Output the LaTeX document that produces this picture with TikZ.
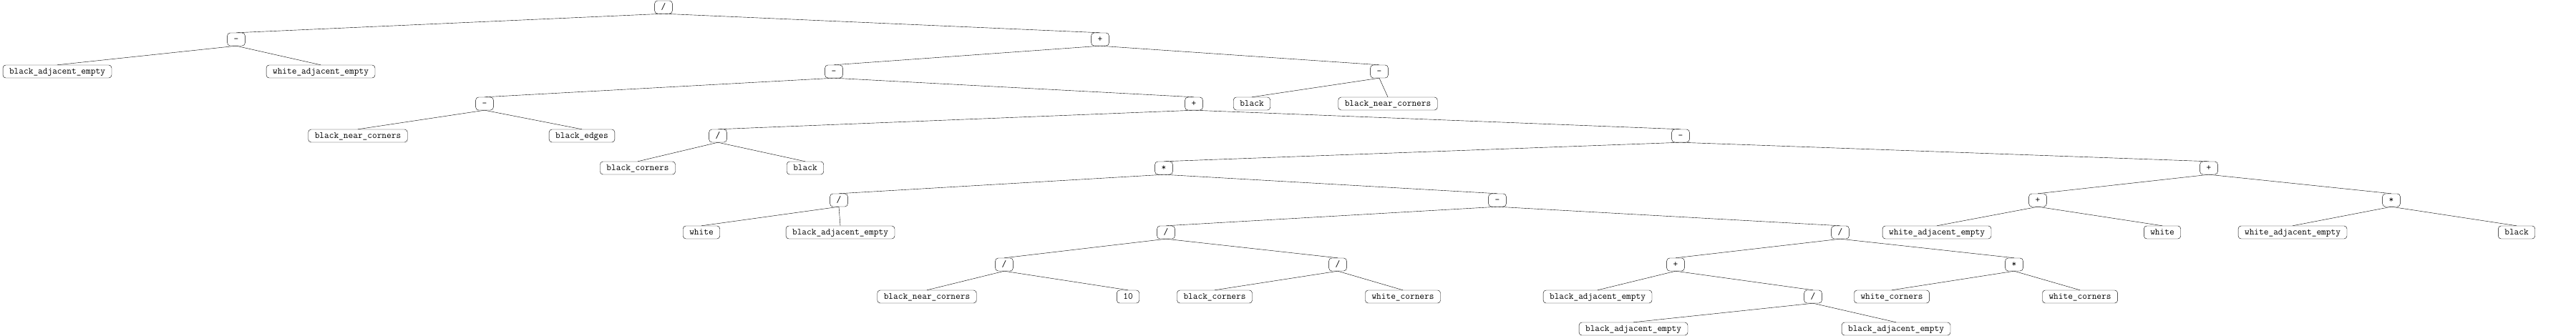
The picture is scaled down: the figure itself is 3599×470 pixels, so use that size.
\documentclass[tikz,border=0pt]{standalone}
\tikzstyle{t} = [draw, rounded corners=4pt, thin, font=\fontsize{13}{15}\selectfont\ttfamily, inner xsep=9pt, inner ysep=0pt, minimum height=18pt, text height=9pt, text depth=2pt]
\begin{document}
\begin{tikzpicture}[x=1pt,y=-1pt,
		op/.style={t},
		leaf/.style={t},
		edge/.style={thin}]
		\useasboundingbox (0,0) rectangle (3599,470);
		% operators
		\node (a) [op] at (927,10) {/};
		\node (b) [op] at (330,55) {-};
		\node (c) [op] at (1537,55) {+};
		\node (d) [op] at (1165,100) {-};
		\node (e) [op] at (1927,100) {-};
		\node (f) [op] at (677,145) {-};
		\node (g) [op] at (1668,145) {+};
		\node (h) [op] at (1003,190) {/};
		\node (i) [op] at (2348,190) {-};
		\node (j) [op] at (1626,235) {*};
		\node (k) [op] at (3086,235) {+};
		\node (l) [op] at (1172,280) {/};
		\node (m) [op] at (2092,280) {-};
		\node (n) [op] at (2847,280) {+};
		\node (o) [op] at (3341,280) {*};
		\node (p) [op] at (1629,325) {/};
		\node (q) [op] at (2571,325) {/};
		\node (r) [op] at (1403,370) {/};
		\node (s) [op] at (1869,370) {/};
		\node (u) [op] at (2341,370) {+};
		\node (v) [op] at (2814,370) {*};
		\node (w) [op] at (2533,415) {/};
		% leaves
		\node (b1) [leaf] at (80,100) {black\_adjacent\_empty};
		\node (b2) [leaf] at (448,100) {white\_adjacent\_empty};
		\node (e1) [leaf] at (1749,145) {black};
		\node (e2) [leaf] at (1939,145) {black\_near\_corners};
		\node (f1) [leaf] at (500,190) {black\_near\_corners};
		\node (f2) [leaf] at (813,190) {black\_edges};
		\node (h1) [leaf] at (891,235) {black\_corners};
		\node (h2) [leaf] at (1125,235) {black};
		\node (l1) [leaf] at (980,325) {white};
		\node (l2) [leaf] at (1174,325) {black\_adjacent\_empty};
		\node (n1) [leaf] at (2706,325) {white\_adjacent\_empty};
		\node (n2) [leaf] at (3021,325) {white};
		\node (o1) [leaf] at (3203,325) {white\_adjacent\_empty};
		\node (o2) [leaf] at (3516,325) {black};
		\node (r1) [leaf] at (1295,415) {black\_near\_corners};
		\node (r2) [leaf] at (1576,415) {10};
		\node (s1) [leaf] at (1697,415) {black\_corners};
		\node (s2) [leaf] at (1960,415) {white\_corners};
		\node (u1) [leaf] at (2232,415) {black\_adjacent\_empty};
		\node (v1) [leaf] at (2643,415) {white\_corners};
		\node (v2) [leaf] at (2906,415) {white\_corners};
		\node (w1) [leaf] at (2282,460) {black\_adjacent\_empty};
		\node (w2) [leaf] at (2649,460) {black\_adjacent\_empty};
		% edges
		\foreach \p/\q in {a/b,a/c,b/b1,b/b2,c/d,c/e,d/f,d/g,e/e1,e/e2,f/f1,f/f2,
			g/h,g/i,h/h1,h/h2,i/j,i/k,j/l,j/m,k/n,k/o,l/l1,l/l2,m/p,m/q,n/n1,n/n2,
			o/o1,o/o2,p/r,p/s,q/u,q/v,r/r1,r/r2,s/s1,s/s2,u/u1,u/w,v/v1,v/v2,w/w1,w/w2}
			\draw [edge] (\p.south) -- (\q.north);
	\end{tikzpicture}
\end{document}
